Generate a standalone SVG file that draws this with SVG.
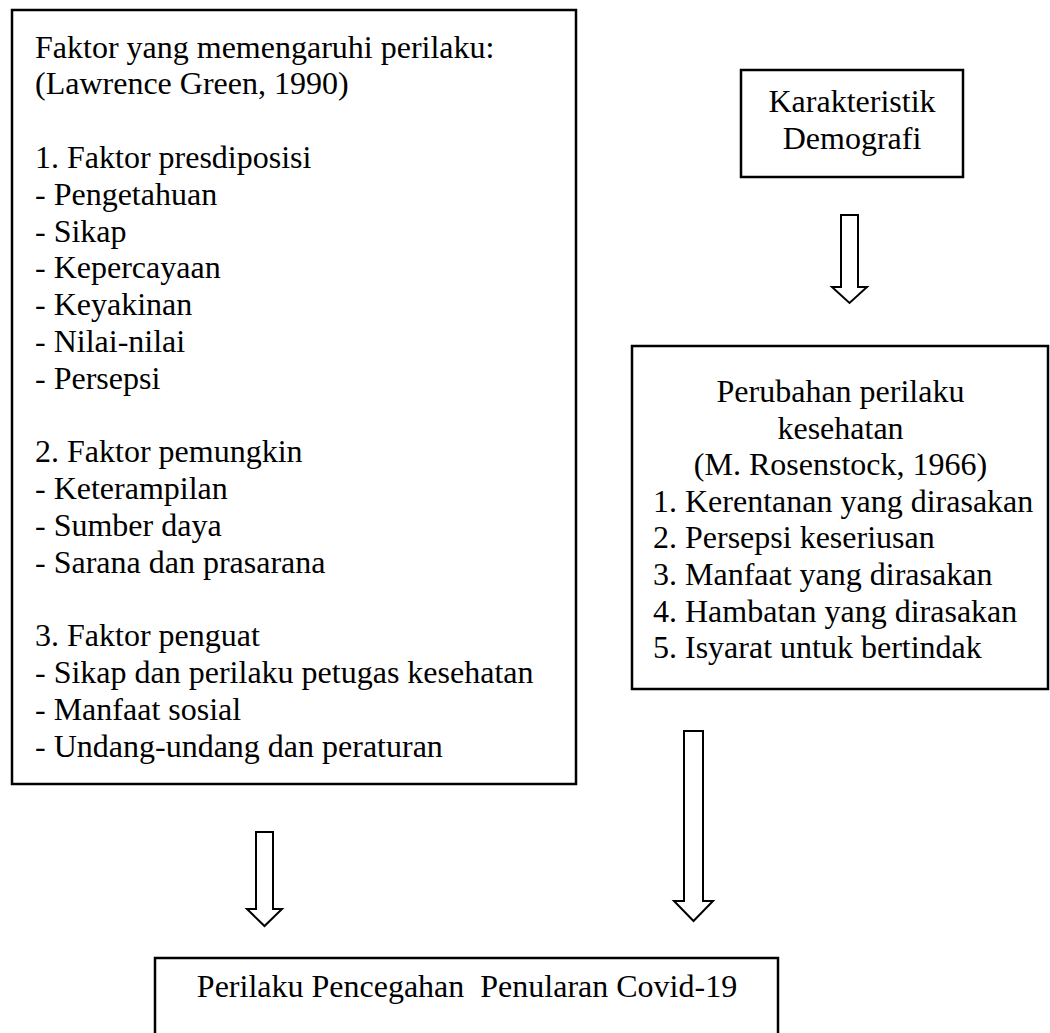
<svg xmlns="http://www.w3.org/2000/svg" width="1050" height="1033" viewBox="0 0 1050 1033">
<style>
.box{fill:#fff;stroke:#000;stroke-width:2.5}
.arrow{fill:#fff;stroke:#000;stroke-width:2;stroke-linejoin:miter}
text{font-family:"Liberation Serif","Times New Roman",serif;font-size:32px;fill:#000}
.c{text-anchor:middle}
</style>
<rect width="1050" height="1033" fill="#fff"/>
<g id="node-green">
<rect class="box" x="12" y="10" width="564" height="774"/>
<text x="35" y="57.6">Faktor yang memengaruhi perilaku:</text>
<text x="35" y="94.4">(Lawrence Green, 1990)</text>
<text x="35" y="168">1. Faktor presdiposisi</text>
<text x="35" y="204.8">- Pengetahuan</text>
<text x="35" y="241.6">- Sikap</text>
<text x="35" y="278.4">- Kepercayaan</text>
<text x="35" y="315.2">- Keyakinan</text>
<text x="35" y="352">- Nilai-nilai</text>
<text x="35" y="388.8">- Persepsi</text>
<text x="35" y="462.4">2. Faktor pemungkin</text>
<text x="35" y="499.2">- Keterampilan</text>
<text x="35" y="536">- Sumber daya</text>
<text x="35" y="572.8">- Sarana dan prasarana</text>
<text x="35" y="646.4">3. Faktor penguat</text>
<text x="35" y="683.2">- Sikap dan perilaku petugas kesehatan</text>
<text x="35" y="720">- Manfaat sosial</text>
<text x="35" y="756.8">- Undang-undang dan peraturan</text>
</g>
<g id="node-demografi">
<rect class="box" x="741" y="70" width="222" height="107"/>
<text class="c" x="852" y="111.5">Karakteristik</text>
<text class="c" x="852" y="148.5">Demografi</text>
</g>
<g id="node-rosenstock">
<rect class="box" x="632" y="346" width="416" height="343"/>
<text class="c" x="840.5" y="402">Perubahan perilaku</text>
<text class="c" x="840.5" y="438.6">kesehatan</text>
<text class="c" x="840.5" y="475.2">(M. Rosenstock, 1966)</text>
<text x="653" y="511.8">1. Kerentanan yang dirasakan</text>
<text x="653" y="548.4">2. Persepsi keseriusan</text>
<text x="653" y="585">3. Manfaat yang dirasakan</text>
<text x="653" y="621.6">4. Hambatan yang dirasakan</text>
<text x="653" y="658.2">5. Isyarat untuk bertindak</text>
</g>
<g id="node-covid">
<rect class="box" x="155" y="958" width="623" height="100"/>
<text class="c" x="467" y="997" xml:space="preserve">Perilaku Pencegahan  Penularan Covid-19</text>
</g>
<g id="connectors">
<path class="arrow" d="M841,215 H858 V287 H867 L849.5,303 L832,287 H841 Z"/>
<path class="arrow" d="M256,832 H273 V909 H282 L264.5,926 L247,909 H256 Z"/>
<path class="arrow" d="M684,731 H703 V901 H713 L693.5,921 L674,901 H684 Z"/>
</g>
</svg>
